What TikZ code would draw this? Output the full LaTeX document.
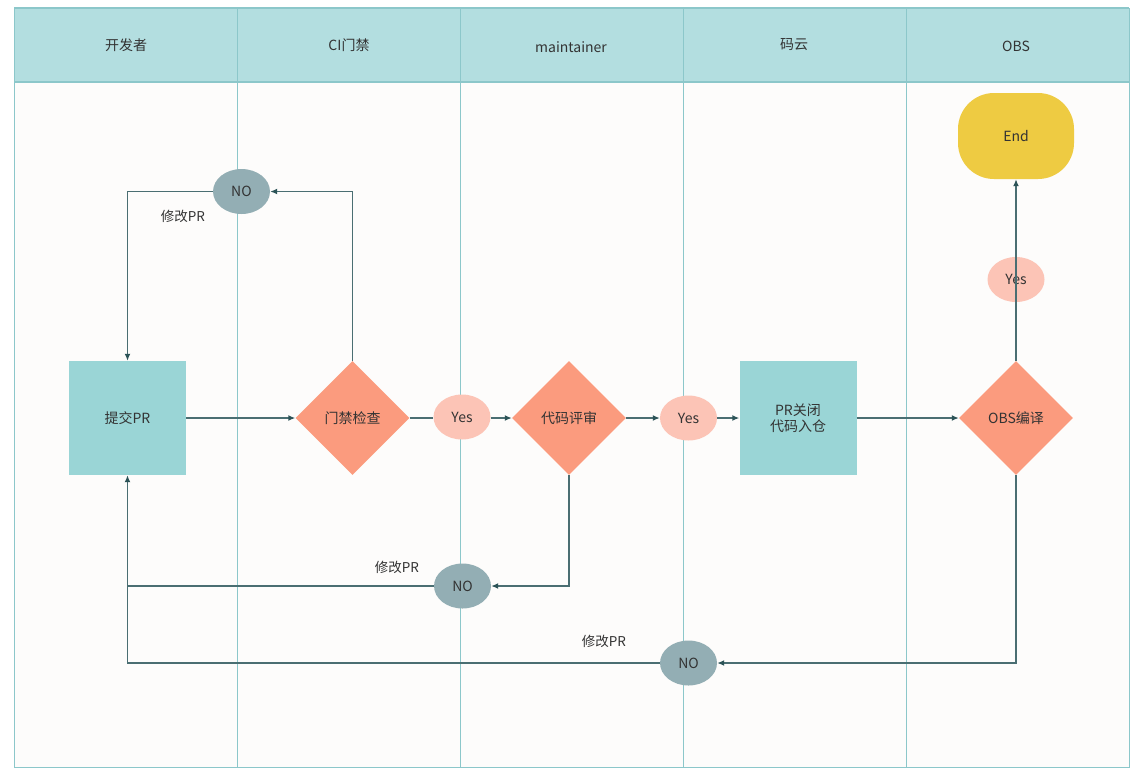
\documentclass[tikz,border=0pt]{standalone}
\usepackage{fontspec}
\setmainfont{Noto Sans CJK SC}
\usetikzlibrary{shapes.geometric,arrows.meta}
\definecolor{hdr}{HTML}{B3DEE0}
\definecolor{lanec}{HTML}{8CC7CA}
\definecolor{bodybg}{HTML}{FDFCFB}
\definecolor{rectc}{HTML}{9AD5D6}
\definecolor{diac}{HTML}{FB9B7E}
\definecolor{yesc}{HTML}{FCC4B6}
\definecolor{noc}{HTML}{93AEB4}
\definecolor{endc}{HTML}{EECB42}
\definecolor{linec}{HTML}{4A6E72}
\definecolor{tipc}{HTML}{2C5357}
\definecolor{txt}{HTML}{333333}
\begin{document}
\begin{tikzpicture}[x=1pt,y=-1pt,
  every node/.style={text=txt,font=\fontsize{14}{16.5}\selectfont},
  lane/.style={draw=lanec,line width=1pt},
  proc/.style={draw=none,fill=rectc,minimum width=117pt,minimum height=114pt,inner sep=0pt,align=center},
  dec/.style={diamond,aspect=1,fill=diac,minimum size=114pt,inner sep=0pt},
  yesn/.style={ellipse,fill=yesc,minimum width=57pt,minimum height=45pt,inner sep=0pt},
  non/.style={ellipse,fill=noc,minimum width=57pt,minimum height=45pt,inner sep=0pt},
  endn/.style={fill=endc,rounded corners=36pt,minimum width=116pt,minimum height=86pt,inner sep=0pt},
  wire/.style={draw=linec,line width=1.4pt},
  conn/.style={wire,-{Latex[length=7pt,width=6pt,color=tipc]}},
  lbl/.style={font=\fontsize{13.5}{15}\selectfont}
]
\useasboundingbox (0,0) rectangle (1140,769);
\fill[white] (0,0) rectangle (1140,769);
\fill[bodybg] (14,82) rectangle (1129,767);
\fill[hdr] (14,8) rectangle (1129,82);
\foreach \x in {237,460,683,906} \draw[lane] (\x,8) -- (\x,767);
\draw[lane] (14,8) rectangle (1129,767);
\draw[draw=lanec,line width=1.8pt] (14,82) -- (1129,82);
\draw[draw=lanec,line width=1.8pt] (14,8) -- (1129,8);

% headers
\node (h1) at (126,45) {开发者};
\node (h2) at (349,45) {CI门禁};
\node (h3) at (571,47) {maintainer};
\node (h4) at (794,45) {码云};
\node (h5) at (1016,46) {OBS};

% nodes
\node[proc] (submit) at (127.5,418) {提交PR};
\node[dec] (gate) at (352.5,418) {门禁检查};
\node[yesn] (yes1) at (462,417) {Yes};
\node[dec] (review) at (569,418) {代码评审};
\node[yesn] (yes2) at (688.5,418) {Yes};
\node[proc] (close) at (798,418) {PR关闭\\代码入仓};
\node[dec] (obs) at (1016,418) {OBS编译};
\node[yesn] (yes3) at (1016,279.5) {Yes};
\node[endn] (endn) at (1016,136) {End};
\node[non] (no1) at (241.5,191.5) {NO};
\node[non] (no2) at (462.5,586) {NO};
\node[non] (no3) at (688.5,663) {NO};

% labels
\node[lbl] (l1) at (183,216) {修改PR};
\node[lbl] (l2) at (397,567) {修改PR};
\node[lbl] (l3) at (604,641) {修改PR};

% connectors
\draw[conn] (submit.east) -- (gate.west);
\draw[wire] (gate.east) -- (yes1.west |- gate.east);
\draw[conn] (yes1.east |- review.west) -- (review.west);
\draw[conn] (review.east) -- (yes2.west);
\draw[conn] (yes2.east) -- (close.west);
\draw[conn] (close.east) -- (obs.west);
\draw[conn] (obs.north) -- (endn.south);
\draw[conn] (gate.north) |- (no1.east);
\draw[conn] (no1.west) -| (submit.north);
\draw[conn] (review.south) |- (no2.east);
\draw[wire] (no2.west) -- (submit.south |- no2.west);
\draw[conn] (obs.south) |- (no3.east);
\draw[conn] (no3.west) -| (submit.south);
\end{tikzpicture}
\end{document}
